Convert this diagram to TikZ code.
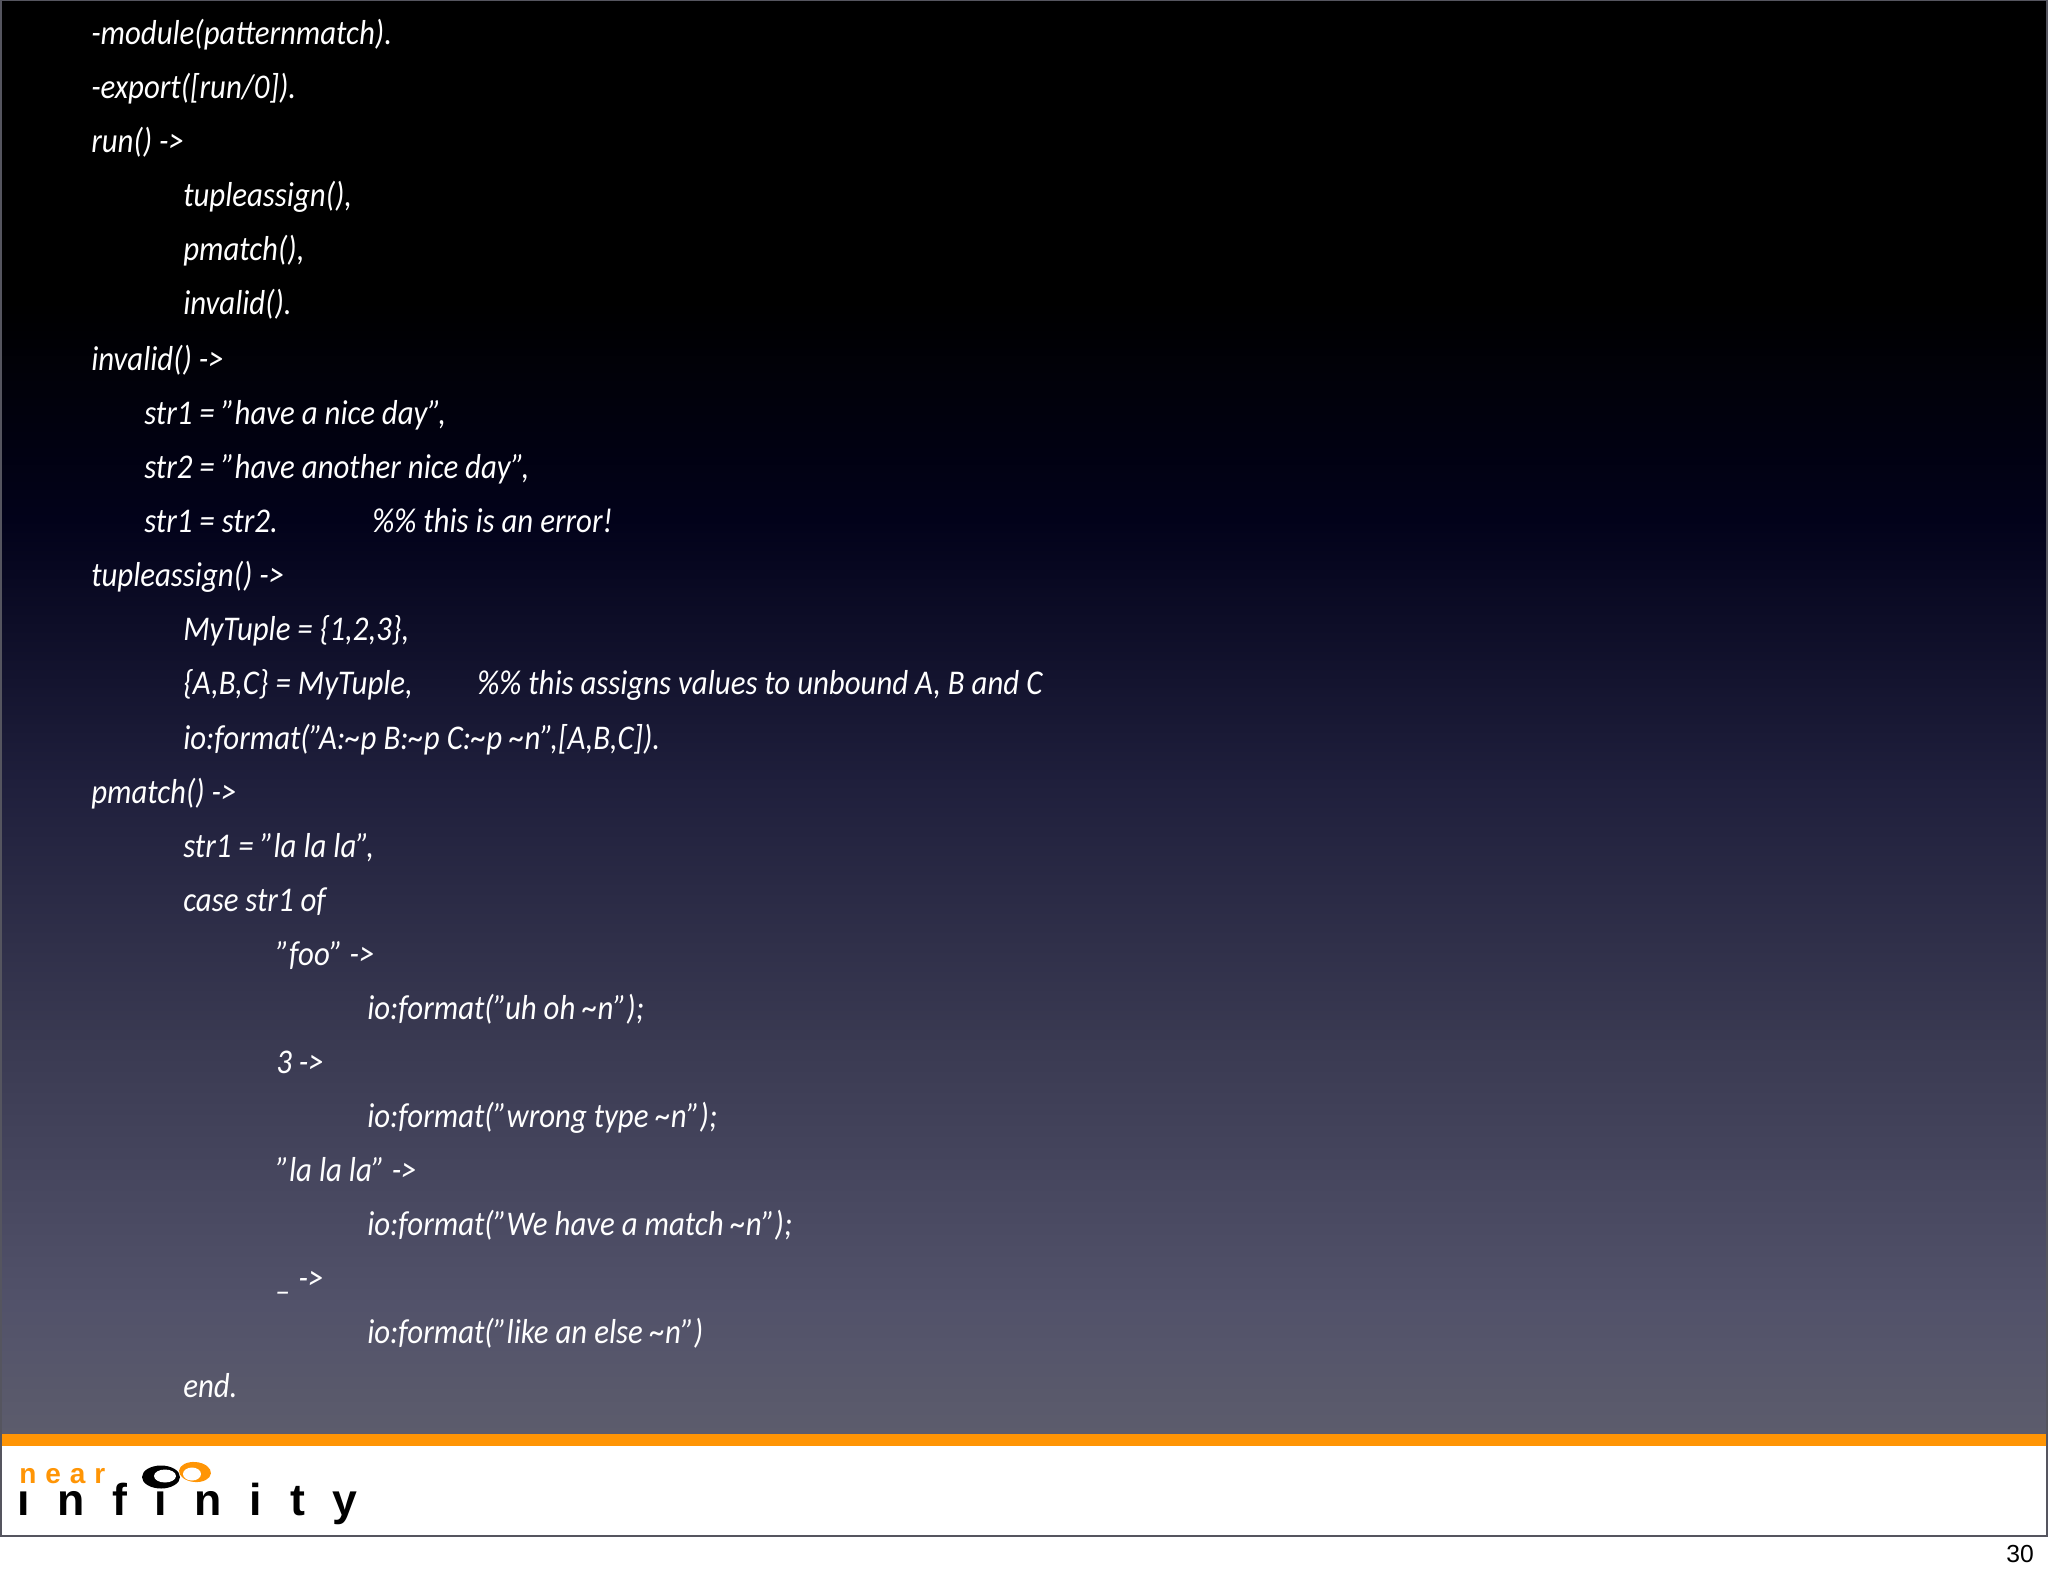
\documentclass[tikz,border=0pt]{standalone}
\usepackage{fontspec}
\setmainfont{Carlito}[FakeStretch=0.89]
\newfontfamily\logofont[LetterSpace=62]{Liberation Sans}
\newfontfamily\nearfont[LetterSpace=32]{Liberation Sans}
\newfontfamily\pagefont{Liberation Sans}
\definecolor{slateend}{HTML}{5C5C6C}
\definecolor{slatelow}{HTML}{52526A}
\definecolor{slatemid}{HTML}{3A3A52}
\definecolor{navymid}{HTML}{1F1F3C}
\definecolor{navytop}{HTML}{02021A}
\definecolor{barorange}{HTML}{FF9505}
\definecolor{framegrey}{HTML}{55555F}
% tikz fits the path into the middle 50bp of the shading
\pgfdeclareverticalshading{slidefade}{100bp}{
  color(0bp)=(slateend);
  color(25bp)=(slateend);
  color(29.5bp)=(slatelow);
  color(38.6bp)=(slatemid);
  color(47.7bp)=(navymid);
  color(56.9bp)=(navytop);
  color(64.5bp)=(black);
  color(100bp)=(black)}
\tikzset{
  codeline/.style={anchor=base west,text=white,inner sep=0pt,font=\fontsize{26}{26}\selectfont\itshape},
  logoblob/.style={draw=none,inner sep=0pt}
}

\begin{document}
\begin{tikzpicture}[x=0.75pt,y=-0.75pt]
    % slide background
    \useasboundingbox (0,0) rectangle (2048,1576);
    \fill[white] (0,0) rectangle (2048,1576);
    \shade[shading=slidefade] (0,0) rectangle (2048,1434);
    \fill[barorange] (0,1434) rectangle (2048,1446);
    \draw[framegrey,line width=1.5pt] (0.5,0.5) rectangle (2047,1536);
    % code, one line every 54.1px
    \node[codeline] (lmodule) at (91,45) {-module(patternmatch).};
    \node[codeline] (lexport) at (91,99) {-export([run/0]).};
    \node[codeline] (lrun) at (91,153) {run() ->};
    \node[codeline] (lcalla) at (183,207) {tupleassign(),};
    \node[codeline] (lcallb) at (183,261) {pmatch(),};
    \node[codeline] (lcallc) at (183,315) {invalid().};
    \node[codeline] (linvalid) at (91,370) {invalid() ->};
    \node[codeline] (lstra) at (144,424) {str1 = "have a nice day",};
    \node[codeline] (lstrb) at (144,478) {str2 = "have another nice day",};
    \node[codeline] (lstrc) at (144,532) {str1 = str2.};
    \node[codeline] (lerror) at (372,532) {\%\% this is an error!};
    \node[codeline] (ltuple) at (91,586) {tupleassign() ->};
    \node[codeline] (lmytuple) at (183,640) {MyTuple = \{1,2,3\},};
    \node[codeline] (lassign) at (183,694) {\{A,B,C\} = MyTuple,};
    \node[codeline] (lnote) at (477,694) {\%\% this assigns values to unbound A, B and C};
    \node[codeline] (lformat) at (183,749) {io:format("A:\textasciitilde p B:\textasciitilde p C:\textasciitilde p \textasciitilde n",[A,B,C]).};
    \node[codeline] (lpmatch) at (91,803) {pmatch() ->};
    \node[codeline] (lstrd) at (183,857) {str1 = "la la la",};
    \node[codeline] (lcase) at (183,911) {case str1 of};
    \node[codeline] (lfoo) at (276,965) {"foo" ->};
    \node[codeline] (luhoh) at (367,1019) {io:format("uh oh \textasciitilde n");};
    \node[codeline] (lthree) at (276,1073) {3 ->};
    \node[codeline] (lwrong) at (367,1127) {io:format("wrong type \textasciitilde n");};
    \node[codeline] (llala) at (276,1181) {"la la la" ->};
    \node[codeline] (lmatch) at (367,1235) {io:format("We have a match \textasciitilde n");};
    \node[codeline] (lblank) at (276,1289) {\_ ->};
    \node[codeline] (lelse) at (367,1343) {io:format("like an else \textasciitilde n")};
    \node[codeline] (lend) at (183,1397) {end.};
    % near infinity logo
    \fill[barorange,rotate around={-5:(195,1472)}] (195,1472) ellipse [x radius=16,y radius=10];
    \fill[white] (192,1474) ellipse [x radius=9,y radius=6.5];
    \fill[black] (161,1477) ellipse [x radius=19,y radius=11.5];
    \fill[white] (165,1476) ellipse [x radius=11,y radius=6.5];
    \node[logoblob,anchor=base west,text=barorange,font=\nearfont\bfseries\fontsize{21}{21}\selectfont] (lognear) at (19,1483) {near};
    \node[logoblob,anchor=base west,text=black,font=\logofont\bfseries\fontsize{33.5}{33.5}\selectfont] (loginf) at (17,1515) {\i nf\i nity};
    \node[anchor=base east,inner sep=0pt,text=black,font=\pagefont\fontsize{18.5}{18.5}\selectfont] (pagenum) at (2034,1562) {30};
\end{tikzpicture}
\end{document}
